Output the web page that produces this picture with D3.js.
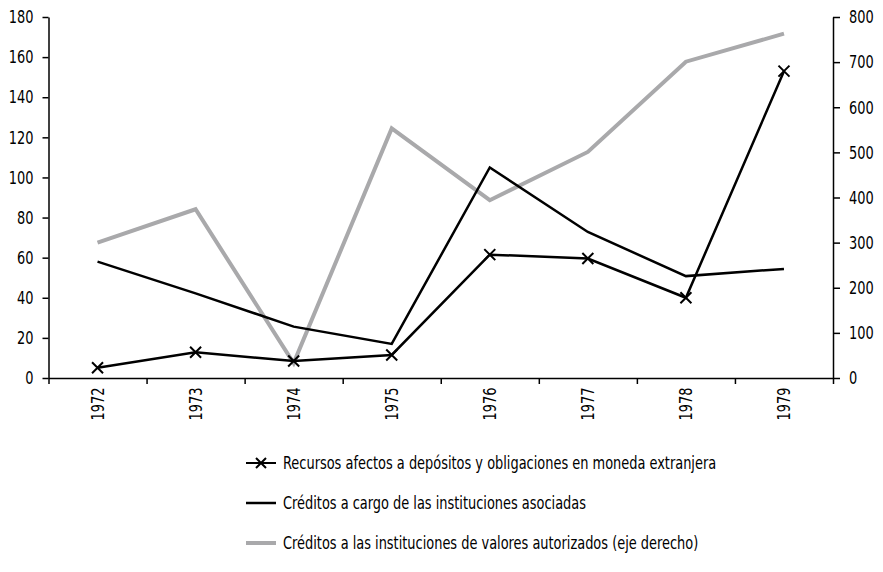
<!DOCTYPE html>
<html><head><meta charset="utf-8">
<script src="https://cdn.jsdelivr.net/npm/d3@7"></script>
<style>
body{margin:0;background:#fff;}
svg text{font-family:"Liberation Sans Narrow","DejaVu Sans Condensed","Roboto Condensed",sans-serif;fill:#000;}
</style></head>
<body><svg id="c" width="883" height="572"></svg>
<script>
const years = ["1972","1973","1974","1975","1976","1977","1978","1979"];
const recursos = [5.1, 12.8, 8.5, 11.5, 61.5, 59.6, 40, 153];
const creditosAsociadas = [58, 42.2, 25.6, 17, 105, 72.8, 50.8, 54.4];
const creditosValores = [300, 374, 33, 553, 394, 501, 701, 763];
const leftTicks = [0,20,40,60,80,100,120,140,160,180];
const rightTicks = [0,100,200,300,400,500,600,700,800];
const legendLabels = [
  "Recursos afectos a depósitos y obligaciones en moneda extranjera",
  "Créditos a cargo de las instituciones asociadas",
  "Créditos a las instituciones de valores autorizados (eje derecho)"
];

const SX = 0.8, FS = "18px";
const svg = d3.select("#c");
const L = 48.5, R = 833, T = 17, B = 378;
const x = d3.scaleBand().domain(years).range([L, R]);
const xi = d3.scaleLinear().domain([0, years.length]).range([L, R]);
const yL = d3.scaleLinear().domain([0, 180]).range([B, T]);
const yR = d3.scaleLinear().domain([0, 800]).range([B, T]);
const cx = d => x(d) + x.bandwidth() / 2;

const narrow = sel => sel.each(function() {
  const t = d3.select(this);
  const px = +t.attr("x") || 0;
  t.attr("x", 0).attr("transform", `translate(${px},0) scale(${SX},1)`).style("font-size", FS);
});

// axes
const gl = svg.append("g").attr("transform", `translate(${L},0)`)
  .call(d3.axisLeft(yL).tickValues(leftTicks).tickSize(6).tickSizeOuter(0).tickPadding(9));
const gr = svg.append("g").attr("transform", `translate(${R},0)`)
  .call(d3.axisRight(yR).tickValues(rightTicks).tickSize(7).tickSizeOuter(0).tickPadding(9));
const gb = svg.append("g").attr("transform", `translate(0,${B})`)
  .call(d3.axisBottom(xi).tickValues(d3.range(0, years.length + 1)).tickSize(6).tickSizeOuter(0).tickFormat(""));
const gbl = svg.append("g").attr("transform", `translate(0,${B})`)
  .call(d3.axisBottom(x).tickSize(0).tickPadding(0));
gbl.select(".domain").remove();
gbl.selectAll("text")
  .attr("transform", `rotate(-90) scale(${SX},1)`)
  .attr("text-anchor", "end")
  .attr("x", -12).attr("y", 0).attr("dy", "0.35em")
  .style("font-size", FS);
[gl, gr, gb].forEach(g => {
  g.selectAll(".domain").attr("stroke", "#000").attr("stroke-width", 1.5);
  g.selectAll(".tick line").attr("stroke", "#000").attr("stroke-width", 1.5);
});
narrow(gl.selectAll("text"));
narrow(gr.selectAll("text"));

// lines
const lineL = d3.line().x((d, i) => cx(years[i])).y(d => yL(d));
const lineR = d3.line().x((d, i) => cx(years[i])).y(d => yR(d));

svg.append("path").datum(creditosValores).attr("d", lineR)
  .attr("fill", "none").attr("stroke", "#a9a9ab").attr("stroke-width", 4).attr("stroke-linejoin", "miter");
svg.append("path").datum(creditosAsociadas).attr("d", lineL)
  .attr("fill", "none").attr("stroke", "#000").attr("stroke-width", 2.5);
svg.append("path").datum(recursos).attr("d", lineL)
  .attr("fill", "none").attr("stroke", "#000").attr("stroke-width", 2.5);

const cross = (g, px, py, s) => {
  g.append("path").attr("d", `M${px - s},${py - s}L${px + s},${py + s}M${px - s},${py + s}L${px + s},${py - s}`)
    .attr("stroke", "#000").attr("stroke-width", 2).attr("fill", "none");
};
const mg = svg.append("g");
recursos.forEach((v, i) => cross(mg, cx(years[i]), yL(v), 5.5));

// legend
const lg = svg.append("g");
const lx0 = 246, lx1 = 276, ly = [463, 503, 543];
const styles = [
  {stroke: "#000", w: 2, cross: true},
  {stroke: "#000", w: 2.5, cross: false},
  {stroke: "#a9a9ab", w: 4, cross: false}
];
legendLabels.forEach((t, i) => {
  lg.append("line").attr("x1", lx0).attr("x2", lx1).attr("y1", ly[i]).attr("y2", ly[i])
    .attr("stroke", styles[i].stroke).attr("stroke-width", styles[i].w);
  if (styles[i].cross) cross(lg, (lx0 + lx1) / 2, ly[i], 5);
  lg.append("text").attr("x", 0).attr("y", 0).attr("dy", "0.35em")
    .attr("transform", `translate(283,${ly[i]}) scale(${SX},1)`)
    .style("font-size", FS).text(t);
});
</script></body></html>
